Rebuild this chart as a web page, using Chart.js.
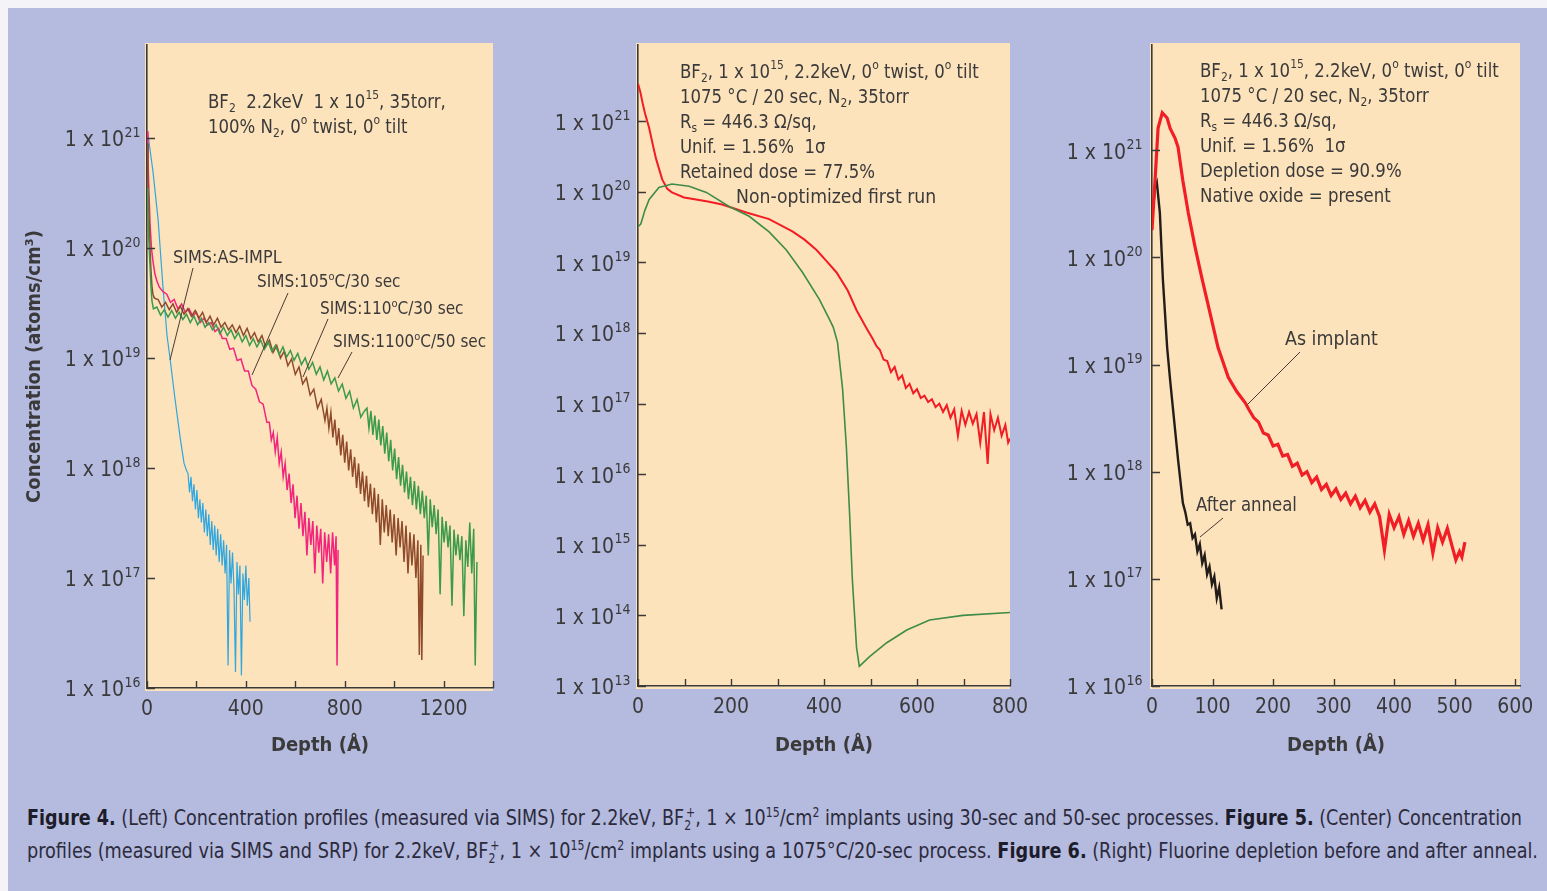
<!DOCTYPE html>
<html>
<head>
<meta charset="utf-8">
<script src="https://cdn.jsdelivr.net/npm/chart.js@4.4.1/dist/chart.umd.min.js"></script>
<style>
  html, body { margin: 0; padding: 0; background: #f4f4f8; width: 1547px; height: 891px; overflow: hidden; }
  #page { position: absolute; left: 8px; top: 8px; width: 1539px; height: 883px; background: #b5badf; }
  canvas { position: absolute; top: 0; }
  .cap { position: absolute; left: 27px; white-space: nowrap; line-height: 26px;
         font-family: "Liberation Sans Narrow", "DejaVu Sans Condensed", sans-serif;
         font-size: 22px; color: #2c2b3c; transform-origin: 0 50%; }
  .cap b { color: #1d1c2a; }
  .cap sup, .cap sub { font-size: 62%; line-height: 0; }
  .cap sup.pl { margin-left: -0.42em; }
</style>
</head>
<body>
<div id="page"></div>
<canvas id="fig4" width="510" height="780" style="left:0px"></canvas>
<canvas id="fig5" width="510" height="780" style="left:520px"></canvas>
<canvas id="fig6" width="507" height="780" style="left:1040px"></canvas>
<div class="cap" id="cap1" style="top:805px"><b>Figure 4.</b> (Left) Concentration profiles (measured via SIMS) for 2.2keV, BF<sub>2</sub><sup class="pl">+</sup>, 1 × 10<sup>15</sup>/cm<sup>2</sup> implants using 30-sec and 50-sec processes. <b>Figure 5.</b> (Center) Concentration</div>
<div class="cap" id="cap2" style="top:838px">profiles (measured via SIMS and SRP) for 2.2keV, BF<sub>2</sub><sup class="pl">+</sup>, 1 × 10<sup>15</sup>/cm<sup>2</sup> implants using a 1075°C/20-sec process. <b>Figure 6.</b> (Right) Fluorine depletion before and after anneal.</div>
<script>
const FONT = '"Liberation Sans Narrow", "DejaVu Sans Condensed", sans-serif';
const INK = '#3b3a3a';
const PEACH = '#fde3bc';

// ---------- Figure 4: SIMS profiles, depth (Å) vs concentration ----------
const fig4XTicks = [0, 200, 400, 600, 800, 1000, 1200, 1400];
const fig4Decades = [16, 17, 18, 19, 20, 21];

const asImpl = [[0,1.1e21],[6,1.0e21],[12,7.9e20],[24,5.0e20],[45,1.8e20],[65,4.3e19],[81,1.6e19],[93,1.0e19],[113,4.3e18],[134,1.9e18],[150,1.1e18],[160,9.5e17],
  [166,8.9e17],[172,6.0e17],[178,8.3e17],[184,5.0e17],[190,7.1e17],[196,4.2e17],[202,6.3e17],[208,3.5e17],[214,5.2e17],[220,3.2e17],[226,4.8e17],[232,2.6e17],
  [238,4.2e17],[244,2.4e17],[250,3.8e17],[256,2.0e17],[262,3.3e17],[268,1.8e17],[274,3.0e17],[280,1.6e17],[286,2.8e17],[292,1.4e17],[298,2.5e17],[304,1.3e17],
  [310,2.2e17],[316,1.1e17],[322,2.0e17],[328,1.6e16],[334,1.8e17],[340,8.9e16],[346,1.7e17],[352,7.9e16],[358,1.4e16],[364,1.4e17],[370,7.1e16],[376,1.3e17],
  [382,1.3e16],[388,1.1e17],[394,6.3e16],[400,1.3e17],[406,5.6e16],[412,1.0e17],[417,4.0e16]];

const anneal105 = [[0,1.15e21],[4,6.3e20],[8,3.2e20],[12,1.7e20],[18,1.0e20],[24,7.6e19],[32,5.8e19],[40,5.0e19],[50,4.4e19],[65,4.0e19],[80,3.8e19],[95,3.2e19],
  [110,3.4e19],[125,2.8e19],[140,3.1e19],[155,2.6e19],[170,2.8e19],[185,2.4e19],[200,2.6e19],[215,2.1e19],[230,2.3e19],[245,2.0e19],[260,2.1e19],[275,1.74e19],
  [290,1.86e19],[305,1.5e19],[320,1.5e19],[335,1.2e19],[350,1.23e19],[365,9.5e18],[380,9.8e18],[395,7.6e18],[410,7.6e18],[425,5.6e18],[440,5.2e18],[455,4.0e18],
  [470,3.8e18],[485,2.6e18],[495,2.6e18],[503,1.8e18],[511,2.1e18],[519,1.4e18],[527,1.9e18],[535,1.1e18],[543,1.4e18],[551,8.3e17],[559,1.1e18],[567,6.3e17],
  [575,8.9e17],[583,4.8e17],[591,7.1e17],[599,3.5e17],[607,5.6e17],[615,2.8e17],[623,4.8e17],[631,2.4e17],[639,4.0e17],[647,1.6e17],[655,3.5e17],[663,2.0e17],
  [671,3.3e17],[679,1.1e17],[687,3.0e17],[695,1.7e17],[703,2.8e17],[711,8.9e16],[719,2.6e17],[727,1.4e17],[735,2.5e17],[743,1.1e17],[751,2.6e17],[759,1.3e17],
  [765,2.4e17],[769,1.6e16],[773,1.8e17]];

const anneal110 = [[0,8.9e20],[4,4.0e20],[8,2.0e20],[12,1.0e20],[16,6.3e19],[20,4.5e19],[24,3.8e19],[30,3.5e19],[45,3.4e19],[60,2.9e19],[75,3.2e19],[90,2.75e19],
  [105,3.1e19],[120,2.6e19],[135,2.95e19],[150,2.5e19],[165,2.8e19],[180,2.4e19],[195,2.7e19],[210,2.3e19],[225,2.6e19],[240,2.1e19],[255,2.4e19],[270,2.0e19],
  [285,2.3e19],[300,1.9e19],[315,2.1e19],[330,1.8e19],[345,2.0e19],[360,1.7e19],[375,1.95e19],[390,1.6e19],[405,1.86e19],[420,1.5e19],[435,1.7e19],[450,1.4e19],
  [465,1.6e19],[480,1.26e19],[495,1.45e19],[510,1.12e19],[525,1.3e19],[540,1.0e19],[555,1.15e19],[570,8.5e18],[585,9.8e18],[600,7.1e18],[615,8.3e18],[630,5.8e18],
  [645,6.6e18],[660,4.6e18],[675,5.2e18],[690,3.5e18],[705,4.2e18],[720,2.7e18],[728,3.5e18],[736,2.3e18],[744,3.2e18],[752,1.9e18],[760,2.75e18],[768,1.6e18],
  [776,2.3e18],[784,1.3e18],[792,2.0e18],[800,1.12e18],[808,1.74e18],[816,9.5e17],[824,1.48e18],[832,8.3e17],[840,1.26e18],[848,6.6e17],[856,1.1e18],[864,5.8e17],
  [872,9.3e17],[880,5.0e17],[888,8.5e17],[896,4.4e17],[904,7.2e17],[912,3.8e17],[920,6.6e17],[928,3.2e17],[936,5.8e17],[944,2.0e17],[952,5.2e17],[960,2.6e17],
  [968,4.6e17],[976,2.4e17],[984,4.2e17],[992,2.1e17],[1000,3.8e17],[1008,1.6e17],[1016,3.5e17],[1024,1.9e17],[1032,3.3e17],[1040,1.4e17],[1048,3.0e17],[1056,1.1e17],
  [1064,2.6e17],[1072,1.3e17],[1080,2.5e17],[1088,1.0e17],[1096,2.2e17],[1102,2.0e16],[1108,2.0e17],[1112,1.8e16],[1117,1.6e17]];

const anneal1100 = [[0,3.5e20],[4,2.0e20],[8,1.1e20],[12,7.1e19],[16,4.5e19],[20,3.3e19],[26,2.8e19],[40,2.9e19],[55,2.45e19],[70,2.75e19],[85,2.35e19],[100,2.7e19],
  [115,2.3e19],[130,2.6e19],[145,2.24e19],[160,2.5e19],[175,2.1e19],[190,2.4e19],[205,2.0e19],[220,2.3e19],[235,1.9e19],[250,2.1e19],[265,1.8e19],[280,2.0e19],
  [295,1.66e19],[310,1.9e19],[325,1.6e19],[340,1.8e19],[355,1.5e19],[370,1.7e19],[385,1.4e19],[400,1.6e19],[415,1.3e19],[430,1.5e19],[445,1.26e19],[460,1.45e19],
  [475,1.2e19],[490,1.4e19],[505,1.15e19],[520,1.3e19],[535,1.07e19],[550,1.26e19],[565,1.02e19],[580,1.17e19],[595,9.5e18],[610,1.1e19],[625,8.7e18],[640,1.0e19],
  [655,7.9e18],[670,9.1e18],[685,7.1e18],[700,8.3e18],[715,6.3e18],[730,7.6e18],[745,5.8e18],[760,6.6e18],[775,5.0e18],[790,5.8e18],[805,4.3e18],[820,5.0e18],
  [835,3.5e18],[850,4.2e18],[865,2.9e18],[880,3.3e18],[890,3.5e18],[898,2.3e18],[906,3.3e18],[914,2.0e18],[922,3.0e18],[930,1.8e18],[938,2.75e18],[946,1.6e18],
  [954,2.4e18],[962,1.35e18],[970,2.1e18],[978,1.15e18],[986,1.8e18],[994,9.5e17],[1002,1.5e18],[1010,7.9e17],[1018,1.26e18],[1026,6.9e17],[1034,1.07e18],[1042,6.0e17],
  [1050,9.3e17],[1058,5.2e17],[1066,8.3e17],[1074,4.6e17],[1082,7.6e17],[1090,4.2e17],[1098,6.9e17],[1106,3.8e17],[1114,6.2e17],[1122,3.5e17],[1130,5.6e17],[1138,1.6e17],
  [1146,5.2e17],[1154,2.9e17],[1162,4.6e17],[1170,2.5e17],[1178,4.2e17],[1186,7.1e16],[1194,3.6e17],[1202,2.1e17],[1210,3.3e17],[1218,1.9e17],[1226,3.0e17],[1234,5.6e16],
  [1242,2.75e17],[1250,1.6e17],[1258,2.5e17],[1266,1.45e17],[1274,2.4e17],[1282,4.5e16],[1290,2.2e17],[1298,1.26e17],[1306,3.2e17],[1314,1.1e17],[1322,2.8e17],[1328,1.6e16],
  [1335,1.4e17]];

// ---------- Figure 5: SIMS vs SRP, 1075 °C / 20 sec ----------
const fig5XTicks = [0, 100, 200, 300, 400, 500, 600, 700, 800];
const fig5Decades = [13, 14, 15, 16, 17, 18, 19, 20, 21];

const fig5Sims = [[0,3.4e21],[5,2.6e21],[10,1.8e21],[15,1.3e21],[24,8.0e20],[32,4.6e20],[39,2.9e20],[52,1.5e20],[63,1.1e20],[73,9.8e19],[99,8.3e19],[125,7.8e19],
  [150,7.3e19],[181,6.6e19],[233,5.1e19],[282,4.1e19],[332,2.75e19],[358,2.1e19],[384,1.5e19],[405,1.05e19],[427,7.2e18],[451,4.0e18],[470,2.1e18],[492,1.15e18],
  [505,8.2e17],[513,6.5e17],[520,5.8e17],[528,4.2e17],[536,4.0e17],[544,2.8e17],[552,3.3e17],[560,2.2e17],[568,2.5e17],[576,1.66e17],[584,1.9e17],[592,1.4e17],
  [600,1.6e17],[608,1.2e17],[616,1.3e17],[624,1.05e17],[632,1.15e17],[640,8.9e16],[648,1.0e17],[656,7.6e16],[664,9.5e16],[672,6.3e16],[680,8.3e16],[688,3.5e16],
  [696,7.9e16],[704,5.0e16],[712,7.6e16],[720,5.2e16],[728,7.1e16],[736,2.8e16],[744,7.6e16],[752,1.4e16],[758,7.1e16],[766,4.2e16],[774,6.3e16],[782,3.5e16],
  [790,5.0e16],[796,2.8e16],[800,3.2e16]];

const fig5Srp = [[0,3.2e19],[6,3.5e19],[15,5.5e19],[24,7.8e19],[45,1.15e20],[73,1.29e20],[110,1.2e20],[147,9.8e19],[196,6.2e19],[239,4.5e19],[282,2.7e19],[319,1.5e19],
  [354,7.2e18],[390,3.0e18],[412,1.55e18],[420,1.2e18],[429,7.4e17],[440,1.6e17],[448,2.5e16],[455,2.8e15],[461,3.2e14],[470,3.5e13],[476,1.9e13],[498,2.6e13],
  [535,4.1e13],[578,6.2e13],[627,8.6e13],[699,1.0e14],[800,1.1e14]];

// ---------- Figure 6: fluorine, as implanted vs after anneal ----------
const fig6XTicks = [0, 100, 200, 300, 400, 500, 600];
const fig6Decades = [16, 17, 18, 19, 20, 21];

const asImplant = [[0,1.8e20],[5,5.2e20],[10,1.6e21],[17,2.24e21],[25,2.0e21],[30,1.6e21],[38,1.3e21],[43,1.07e21],[51,5.2e20],[60,2.6e20],[71,1.26e20],[83,6.2e19],
  [96,3.0e19],[109,1.45e19],[126,7.6e18],[140,5.6e18],[154,4.4e18],[160,3.8e18],[168,3.2e18],[176,2.9e18],[184,2.3e18],[192,2.2e18],[200,1.74e18],[208,1.8e18],
  [216,1.4e18],[224,1.45e18],[232,1.12e18],[240,1.2e18],[248,9.3e17],[256,1.0e18],[264,7.9e17],[272,8.9e17],[280,6.8e17],[288,7.6e17],[296,6.0e17],[304,6.9e17],
  [312,5.5e17],[320,6.3e17],[328,5.0e17],[336,5.9e17],[344,4.6e17],[352,5.4e17],[360,4.2e17],[368,5.0e17],[376,3.8e17],[384,1.86e17],[392,4.0e17],[400,3.0e17],
  [408,3.8e17],[416,2.6e17],[424,3.5e17],[432,2.5e17],[440,3.3e17],[448,2.3e17],[456,3.2e17],[464,1.74e17],[472,3.0e17],[480,2.2e17],[488,2.95e17],[496,2.0e17],
  [502,1.5e17],[508,1.8e17],[512,1.6e17],[517,2.2e17]];

const afterAnneal = [[0,2.2e20],[5,4.5e20],[8,5.0e20],[13,2.6e20],[18,6.2e19],[25,1.45e19],[30,7.1e18],[35,3.7e18],[43,1.3e18],[51,5.1e17],[55,4.2e17],[59,3.2e17],
  [63,3.3e17],[67,2.4e17],[71,2.6e17],[75,1.8e17],[79,2.1e17],[83,1.4e17],[87,1.66e17],[91,1.1e17],[95,1.3e17],[99,8.9e16],[103,1.05e17],[107,6.6e16],[111,8.3e16],
  [115,5.2e16]];

// ---------- helpers ----------
function drawRich(ctx, text, x, y, size, squeeze) {
  // _{..} = subscript, ^{..} = superscript
  const re = /([_^])\{([^}]*)\}/g;
  const seg = [];
  let last = 0, m;
  while ((m = re.exec(text))) {
    if (m.index > last) seg.push([text.slice(last, m.index), 0]);
    seg.push([m[2], m[1] === '^' ? 1 : -1]);
    last = re.lastIndex;
  }
  if (last < text.length) seg.push([text.slice(last), 0]);
  ctx.save();
  ctx.translate(x, y);
  ctx.scale(squeeze, 1);
  let cx = 0;
  seg.forEach(([s, k]) => {
    const fs = k ? Math.round(size * 0.66) : size;
    ctx.font = fs + 'px ' + FONT;
    const dy = k === 1 ? -size * 0.36 : (k === -1 ? size * 0.3 : 0);
    ctx.fillText(s, cx, dy);
    cx += ctx.measureText(s).width;
  });
  ctx.restore();
}

const decor = {
  id: 'decor',
  beforeDraw(chart) {
    const {ctx, chartArea: a} = chart;
    ctx.save();
    ctx.fillStyle = PEACH;
    ctx.fillRect(a.left - 2, a.top - 2, a.right - a.left + 2, a.bottom - a.top + 5);
    ctx.restore();
  },
  afterDraw(chart, args, opts) {
    const {ctx, chartArea: a} = chart;
    const xs = chart.scales.x, ys = chart.scales.y;
    ctx.save();
    ctx.strokeStyle = INK;
    ctx.lineWidth = 1.4;
    ctx.beginPath();
    xs.ticks.forEach(t => {
      const px = Math.round(xs.getPixelForValue(t.value)) + 0.5;
      ctx.moveTo(px, a.bottom); ctx.lineTo(px, a.bottom - 7);
    });
    ys.ticks.forEach(t => {
      const py = Math.round(ys.getPixelForValue(t.value)) + 0.5;
      ctx.moveTo(a.left, py); ctx.lineTo(a.left + 8, py);
    });
    ctx.stroke();

    // y tick labels "1 x 10^n"
    ctx.fillStyle = INK;
    ctx.textBaseline = 'middle';
    ys.ticks.forEach(t => {
      const e = Math.round(Math.log10(t.value));
      ctx.font = '21px ' + FONT;
      const w1 = ctx.measureText('1 x 10').width;
      ctx.font = '14px ' + FONT;
      const w2 = ctx.measureText(String(e)).width;
      const py = ys.getPixelForValue(t.value) + 3;
      const x0 = a.left - opts.labelGap - w1 - w2;
      ctx.font = '21px ' + FONT;
      ctx.fillText('1 x 10', x0, py);
      ctx.font = '14px ' + FONT;
      ctx.fillText(String(e), x0 + w1 + 0.5, py - 8);
    });

    // leader lines
    ctx.lineWidth = 1;
    ctx.strokeStyle = '#4a3a32';
    (opts.leaders || []).forEach(l => {
      ctx.beginPath();
      ctx.moveTo(a.left + l[0], a.top + l[1]);
      ctx.lineTo(a.left + l[2], a.top + l[3]);
      ctx.stroke();
    });

    // text notes
    ctx.fillStyle = INK;
    (opts.notes || []).forEach(n =>
      drawRich(ctx, n.text, a.left + n.dx, a.top + n.dy, n.size, n.sq || opts.squeeze));
    ctx.restore();
  }
};

function line(data, color, width) {
  return { data, borderColor: color, borderWidth: width, pointRadius: 0, tension: 0, fill: false };
}

function xAxis(min, max, ticks, labelEvery, height) {
  return {
    type: 'linear', min, max,
    grid: { display: false, drawTicks: false },
    border: { color: INK, width: 1.6 },
    ticks: {
      autoSkip: false, maxRotation: 0, padding: 9, color: INK,
      font: { family: FONT, size: 21 },
      callback: v => (v % labelEvery === 0 ? String(v) : '')
    },
    afterBuildTicks: s => { s.ticks = ticks.map(v => ({ value: v })); },
    title: {
      display: true, text: 'Depth (Å)', color: INK,
      font: { family: FONT, size: 20, weight: 'bold' },
      padding: { top: 0, bottom: 22 }
    },
    afterFit: s => { s.height = height; s.paddingLeft = 0; s.paddingRight = 0; }
  };
}

function yAxis(min, max, decades, width, withTitle) {
  return {
    type: 'logarithmic', min, max,
    grid: { display: false, drawTicks: false },
    border: { color: INK, width: 1.6 },
    ticks: { display: false },
    afterBuildTicks: s => { s.ticks = decades.map(e => ({ value: Math.pow(10, e) })); },
    title: {
      display: !!withTitle, text: 'Concentration (atoms/cm³)', color: INK,
      font: { family: FONT, size: 20, weight: 'bold' },
      padding: { top: 23, bottom: 0 }
    },
    afterFit: s => { s.width = width; s.paddingTop = 0; s.paddingBottom = 0; }
  };
}

function baseOptions(padRight, decorOpts, x, y) {
  return {
    responsive: false,
    animation: false,
    events: [],
    layout: { padding: { left: 0, top: 45, right: padRight, bottom: 0 } },
    plugins: { legend: { display: false }, tooltip: { enabled: false }, decor: decorOpts },
    scales: { x, y }
  };
}

// Figure 4
new Chart(document.getElementById('fig4'), {
  type: 'line',
  data: { datasets: [
    line(anneal1100, '#3b9a4b', 1.5),
    line(anneal110, '#8f4a2b', 1.5),
    line(anneal105, '#f2247c', 1.5),
    line(asImpl, '#2ea6e0', 1.2)
  ] },
  options: baseOptions(17, {
    labelGap: 7,
    squeeze: 0.92,
    notes: [
      { text: 'BF_{2}  2.2keV  1 x 10^{15}, 35torr,', dx: 61, dy: 58, size: 20 },
      { text: '100% N_{2}, 0^{o} twist, 0^{o} tilt', dx: 61, dy: 83, size: 20 },
      { text: 'SIMS:AS-IMPL', dx: 26, dy: 214, size: 17, sq: 1.05 },
      { text: 'SIMS:105^{o}C/30 sec', dx: 110, dy: 238, size: 17, sq: 1 },
      { text: 'SIMS:110^{o}C/30 sec', dx: 173, dy: 265, size: 17, sq: 1 },
      { text: 'SIMS:1100^{o}C/50 sec', dx: 186, dy: 298, size: 17, sq: 1 }
    ],
    leaders: [[46, 223, 23, 315], [141, 248, 105, 330], [181, 274, 156, 332], [205, 307, 191, 333]]
  }, xAxis(0, 1400, fig4XTicks, 400, 92), yAxis(1e16, 7.0e21, fig4Decades, 147, true)),
  plugins: [decor]
});

// Figure 5
new Chart(document.getElementById('fig5'), {
  type: 'line',
  data: { datasets: [
    line(fig5Srp, '#3e8c49', 1.6),
    line(fig5Sims, '#f21c24', 2)
  ] },
  options: baseOptions(20, {
    labelGap: 8,
    squeeze: 0.92,
    notes: [
      { text: 'BF_{2}, 1 x 10^{15}, 2.2keV, 0^{o} twist, 0^{o} tilt', dx: 42, dy: 28, size: 20 },
      { text: '1075 °C / 20 sec, N_{2}, 35torr', dx: 42, dy: 53, size: 20 },
      { text: 'R_{s} = 446.3 Ω/sq,', dx: 42, dy: 78, size: 20 },
      { text: 'Unif. = 1.56%  1σ', dx: 42, dy: 103, size: 20 },
      { text: 'Retained dose = 77.5%', dx: 42, dy: 128, size: 20 },
      { text: 'Non-optimized first run', dx: 98, dy: 153, size: 20, sq: 0.96 }
    ],
    leaders: []
  }, xAxis(0, 800, fig5XTicks, 200, 94), yAxis(1e13, 1.2e22, fig5Decades, 118, false)),
  plugins: [decor]
});

// Figure 6
new Chart(document.getElementById('fig6'), {
  type: 'line',
  data: { datasets: [
    line(asImplant, '#f21e26', 3.2),
    line(afterAnneal, '#221c1a', 2.4)
  ] },
  options: baseOptions(27, {
    labelGap: 10,
    squeeze: 0.92,
    notes: [
      { text: 'BF_{2}, 1 x 10^{15}, 2.2keV, 0^{o} twist, 0^{o} tilt', dx: 48, dy: 27, size: 20 },
      { text: '1075 °C / 20 sec, N_{2}, 35torr', dx: 48, dy: 52, size: 20 },
      { text: 'R_{s} = 446.3 Ω/sq,', dx: 48, dy: 77, size: 20 },
      { text: 'Unif. = 1.56%  1σ', dx: 48, dy: 102, size: 20 },
      { text: 'Depletion dose = 90.9%', dx: 48, dy: 127, size: 20 },
      { text: 'Native oxide = present', dx: 48, dy: 152, size: 20 },
      { text: 'As implant', dx: 133, dy: 295, size: 20, sq: 0.97 },
      { text: 'After anneal', dx: 44, dy: 461, size: 20 }
    ],
    leaders: [[148, 307, 95, 360], [71, 473, 48, 492]]
  }, xAxis(0, 608, fig6XTicks, 100, 94), yAxis(1e16, 9.6e21, fig6Decades, 112, false)),
  plugins: [decor]
});

// stretch caption lines to the printed width
function fitCaption(id, target) {
  const el = document.getElementById(id);
  const w = el.getBoundingClientRect().width;
  if (w > 0) el.style.transform = 'scaleX(' + (target / w) + ')';
}
fitCaption('cap1', 1495);
fitCaption('cap2', 1511);
</script>
</body>
</html>
